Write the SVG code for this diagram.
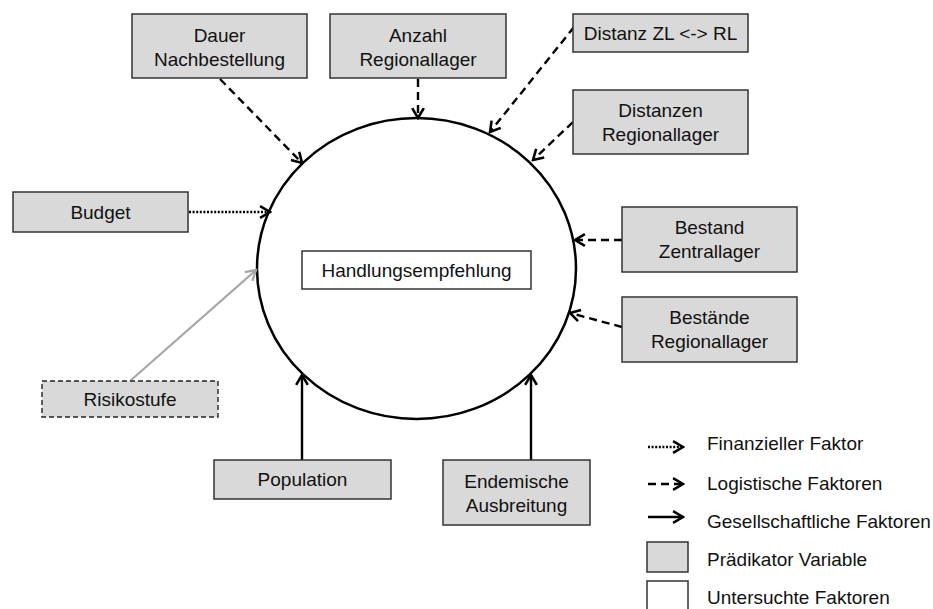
<svg xmlns="http://www.w3.org/2000/svg" width="933" height="609" viewBox="0 0 933 609">
  <style>
    text { font-family: "Liberation Sans", Arial, sans-serif; font-size: 19px; fill: #111; text-anchor: middle; }
    .lg { text-anchor: start; }
    .box { fill: #d9d9d9; stroke: #333; stroke-width: 1.5; }
    .box-dash { fill: #d9d9d9; stroke: #222; stroke-width: 1.4; stroke-dasharray: 5 3; }
    .plain { fill: #fff; stroke: #333; stroke-width: 1.5; }
    .dotted { fill: none; stroke: #000; stroke-width: 2.4; stroke-dasharray: 2 1.6; marker-end: url(#head); }
    .dashed { fill: none; stroke: #000; stroke-width: 2.4; stroke-dasharray: 8 5; marker-end: url(#head); }
    .solid { fill: none; stroke: #000; stroke-width: 2.4; marker-end: url(#head); }
    .grey { fill: none; stroke: #a6a6a6; stroke-width: 2.2; marker-end: url(#head-grey); }
  </style>
  <defs>
    <marker id="head" markerUnits="userSpaceOnUse" markerWidth="14" markerHeight="14" viewBox="-1 -1 12 12" refX="9.5" refY="5" orient="auto">
      <path d="M1,0 L9.5,5 L1,10" fill="none" stroke="#000" stroke-width="2.2"/>
    </marker>
    <marker id="head-grey" markerUnits="userSpaceOnUse" markerWidth="14" markerHeight="14" viewBox="-1 -1 12 12" refX="9.5" refY="5" orient="auto">
      <path d="M1,0 L9.5,5 L1,10" fill="none" stroke="#a6a6a6" stroke-width="2"/>
    </marker>
  </defs>

  <rect width="933" height="609" fill="#fff"/>

  <!-- central node -->
  <g id="zentrum">
    <ellipse cx="416.5" cy="268.5" rx="159.5" ry="150.5" fill="#fff" stroke="#000" stroke-width="2.5"/>
    <rect class="plain" x="302" y="251" width="229" height="38"/>
    <text x="416.5" y="277">Handlungsempfehlung</text>
  </g>

  <!-- connectors -->
  <g id="connectors">
    <line class="dashed" x1="220" y1="79" x2="302" y2="163"/>
    <line class="dashed" x1="418" y1="79" x2="418" y2="118"/>
    <line class="dashed" x1="574" y1="27" x2="490" y2="132"/>
    <line class="dashed" x1="573" y1="122" x2="533" y2="160"/>
    <line class="dotted" x1="189" y1="212" x2="270" y2="212"/>
    <line class="grey" x1="130" y1="381" x2="256" y2="270"/>
    <line class="dashed" x1="622" y1="240" x2="575" y2="240"/>
    <line class="dashed" x1="622" y1="327" x2="570" y2="313"/>
    <line class="solid" x1="302" y1="460" x2="302" y2="375"/>
    <line class="solid" x1="531" y1="460" x2="531" y2="375"/>
  </g>

  <!-- predictor nodes -->
  <g id="dauer-nachbestellung">
    <rect class="box" x="132" y="14" width="175" height="64"/>
    <text x="219.5" y="42">Dauer</text>
    <text x="219.5" y="66">Nachbestellung</text>
  </g>
  <g id="anzahl-regionallager">
    <rect class="box" x="330" y="14" width="176" height="64"/>
    <text x="418" y="42">Anzahl</text>
    <text x="418" y="66">Regionallager</text>
  </g>
  <g id="distanz-zl-rl">
    <rect class="box" x="573" y="14" width="175" height="38"/>
    <text x="660.5" y="40">Distanz ZL &lt;-&gt; RL</text>
  </g>
  <g id="distanzen-regionallager">
    <rect class="box" x="573" y="90" width="175" height="64"/>
    <text x="660.5" y="117">Distanzen</text>
    <text x="660.5" y="141">Regionallager</text>
  </g>
  <g id="budget">
    <rect class="box" x="13" y="192" width="175" height="40"/>
    <text x="100.5" y="219">Budget</text>
  </g>
  <g id="risikostufe">
    <rect class="box-dash" x="42" y="381" width="176" height="36"/>
    <text x="130" y="406">Risikostufe</text>
  </g>
  <g id="bestand-zentrallager">
    <rect class="box" x="622" y="207" width="175" height="65"/>
    <text x="709.5" y="234">Bestand</text>
    <text x="709.5" y="258">Zentrallager</text>
  </g>
  <g id="bestaende-regionallager">
    <rect class="box" x="622" y="297" width="175" height="65"/>
    <text x="709.5" y="324">Bestände</text>
    <text x="709.5" y="348">Regionallager</text>
  </g>
  <g id="population">
    <rect class="box" x="214" y="460" width="177" height="39"/>
    <text x="302.5" y="486">Population</text>
  </g>
  <g id="endemische-ausbreitung">
    <rect class="box" x="443" y="460" width="147" height="65"/>
    <text x="516.5" y="488">Endemische</text>
    <text x="516.5" y="512">Ausbreitung</text>
  </g>

  <!-- legend -->
  <g id="legende">
    <line class="dotted" x1="648" y1="447" x2="683" y2="447"/>
    <text class="lg" x="707" y="450">Finanzieller Faktor</text>
    <line class="dashed" x1="648" y1="484" x2="683" y2="484" stroke-dasharray="6 3"/>
    <text class="lg" x="707" y="490">Logistische Faktoren</text>
    <line class="solid" x1="648" y1="517" x2="683" y2="517"/>
    <text class="lg" x="707" y="528">Gesellschaftliche Faktoren</text>
    <rect class="box" x="647" y="542" width="41" height="30"/>
    <text class="lg" x="707" y="566">Prädikator Variable</text>
    <rect class="plain" x="647" y="581" width="41" height="32"/>
    <text class="lg" x="707" y="604">Untersuchte Faktoren</text>
  </g>
</svg>
